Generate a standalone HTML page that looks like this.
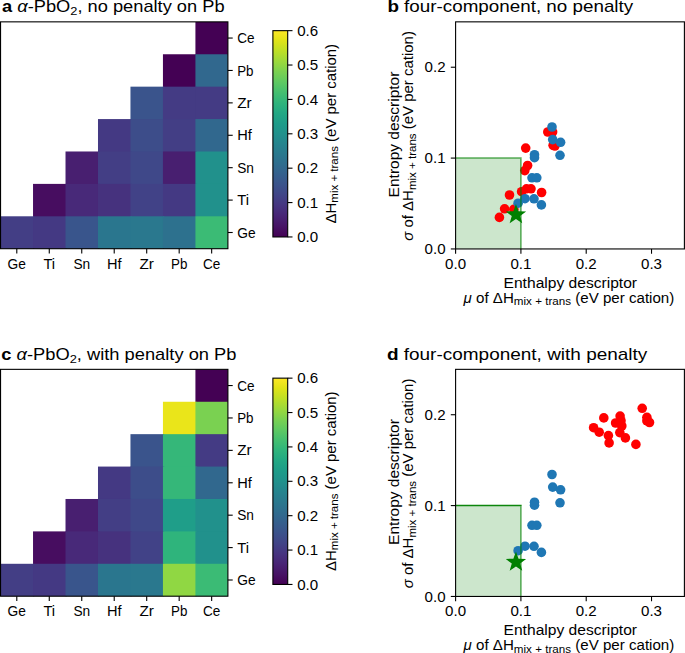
<!DOCTYPE html><html><head><meta charset="utf-8"><style>html,body{margin:0;padding:0;background:#fff;}body{width:685px;height:653px;overflow:hidden;}svg{display:block;}text{font-family:"Liberation Sans", sans-serif;fill:#000;}</style></head><body>
<svg width="685" height="653" viewBox="0 0 685 653">
<rect width="685" height="653" fill="#fff"/>
<text x="2.00" y="12.40" font-size="16.40" textLength="222.60" lengthAdjust="spacingAndGlyphs"><tspan font-weight="bold">a</tspan> <tspan font-style="italic">&#945;</tspan>-PbO<tspan font-size="11.5" dy="2.6">2</tspan><tspan dy="-2.6">,</tspan> no penalty on Pb</text>
<text x="387.40" y="12.40" font-size="16.40" textLength="245.80" lengthAdjust="spacingAndGlyphs"><tspan font-weight="bold">b</tspan> four-component, no penalty</text>
<text x="1.20" y="359.90" font-size="16.40" textLength="235.30" lengthAdjust="spacingAndGlyphs"><tspan font-weight="bold">c</tspan> <tspan font-style="italic">&#945;</tspan>-PbO<tspan font-size="11.5" dy="2.6">2</tspan><tspan dy="-2.6">,</tspan> with penalty on Pb</text>
<text x="386.90" y="359.90" font-size="16.40" textLength="260.40" lengthAdjust="spacingAndGlyphs"><tspan font-weight="bold">d</tspan> four-component, with penalty</text>
<clipPath id="cliph1"><rect x="0.55" y="21.85" width="227.35" height="226.85"/></clipPath>
<g clip-path="url(#cliph1)">
<rect x="195.42" y="21.85" width="33.68" height="33.61" fill="#440154"/>
<rect x="162.94" y="54.26" width="33.68" height="33.61" fill="#440154"/>
<rect x="195.42" y="54.26" width="33.68" height="33.61" fill="#31688e"/>
<rect x="130.46" y="86.66" width="33.68" height="33.61" fill="#3a548c"/>
<rect x="162.94" y="86.66" width="33.68" height="33.61" fill="#443b84"/>
<rect x="195.42" y="86.66" width="33.68" height="33.61" fill="#443b84"/>
<rect x="97.99" y="119.07" width="33.68" height="33.61" fill="#443983"/>
<rect x="130.46" y="119.07" width="33.68" height="33.61" fill="#3d4d8a"/>
<rect x="162.94" y="119.07" width="33.68" height="33.61" fill="#433e85"/>
<rect x="195.42" y="119.07" width="33.68" height="33.61" fill="#31688e"/>
<rect x="65.51" y="151.48" width="33.68" height="33.61" fill="#481f70"/>
<rect x="97.99" y="151.48" width="33.68" height="33.61" fill="#433e85"/>
<rect x="130.46" y="151.48" width="33.68" height="33.61" fill="#3f4889"/>
<rect x="162.94" y="151.48" width="33.68" height="33.61" fill="#481f70"/>
<rect x="195.42" y="151.48" width="33.68" height="33.61" fill="#21918c"/>
<rect x="33.03" y="183.89" width="33.68" height="33.61" fill="#470d60"/>
<rect x="65.51" y="183.89" width="33.68" height="33.61" fill="#482979"/>
<rect x="97.99" y="183.89" width="33.68" height="33.61" fill="#46327e"/>
<rect x="130.46" y="183.89" width="33.68" height="33.61" fill="#414287"/>
<rect x="162.94" y="183.89" width="33.68" height="33.61" fill="#443983"/>
<rect x="195.42" y="183.89" width="33.68" height="33.61" fill="#21918c"/>
<rect x="0.55" y="216.29" width="33.68" height="33.61" fill="#433e85"/>
<rect x="33.03" y="216.29" width="33.68" height="33.61" fill="#443983"/>
<rect x="65.51" y="216.29" width="33.68" height="33.61" fill="#39558c"/>
<rect x="97.99" y="216.29" width="33.68" height="33.61" fill="#2a768e"/>
<rect x="130.46" y="216.29" width="33.68" height="33.61" fill="#2a788e"/>
<rect x="162.94" y="216.29" width="33.68" height="33.61" fill="#2d718e"/>
<rect x="195.42" y="216.29" width="33.68" height="33.61" fill="#3bbb75"/>
</g>
<rect x="0.55" y="21.85" width="227.35" height="226.85" fill="none" stroke="#000" stroke-width="1.10"/>
<line x1="16.79" y1="248.70" x2="16.79" y2="253.50" stroke="#000" stroke-width="1.10"/>
<text x="16.79" y="268.60" font-size="14.00" text-anchor="middle" textLength="18.35" lengthAdjust="spacingAndGlyphs">Ge</text>
<line x1="227.90" y1="38.05" x2="232.70" y2="38.05" stroke="#000" stroke-width="1.10"/>
<text x="237.20" y="43.15" font-size="14.00" text-anchor="start" textLength="17.33" lengthAdjust="spacingAndGlyphs">Ce</text>
<line x1="49.27" y1="248.70" x2="49.27" y2="253.50" stroke="#000" stroke-width="1.10"/>
<text x="49.27" y="268.60" font-size="14.00" text-anchor="middle" textLength="11.73" lengthAdjust="spacingAndGlyphs">Ti</text>
<line x1="227.90" y1="70.46" x2="232.70" y2="70.46" stroke="#000" stroke-width="1.10"/>
<text x="237.20" y="75.56" font-size="14.00" text-anchor="start" textLength="16.34" lengthAdjust="spacingAndGlyphs">Pb</text>
<line x1="81.75" y1="248.70" x2="81.75" y2="253.50" stroke="#000" stroke-width="1.10"/>
<text x="81.75" y="268.60" font-size="14.00" text-anchor="middle" textLength="16.75" lengthAdjust="spacingAndGlyphs">Sn</text>
<line x1="227.90" y1="102.87" x2="232.70" y2="102.87" stroke="#000" stroke-width="1.10"/>
<text x="237.20" y="107.97" font-size="14.00" text-anchor="start" textLength="14.47" lengthAdjust="spacingAndGlyphs">Zr</text>
<line x1="114.22" y1="248.70" x2="114.22" y2="253.50" stroke="#000" stroke-width="1.10"/>
<text x="114.22" y="268.60" font-size="14.00" text-anchor="middle" textLength="14.57" lengthAdjust="spacingAndGlyphs">Hf</text>
<line x1="227.90" y1="135.28" x2="232.70" y2="135.28" stroke="#000" stroke-width="1.10"/>
<text x="237.20" y="140.38" font-size="14.00" text-anchor="start" textLength="14.57" lengthAdjust="spacingAndGlyphs">Hf</text>
<line x1="146.70" y1="248.70" x2="146.70" y2="253.50" stroke="#000" stroke-width="1.10"/>
<text x="146.70" y="268.60" font-size="14.00" text-anchor="middle" textLength="14.47" lengthAdjust="spacingAndGlyphs">Zr</text>
<line x1="227.90" y1="167.68" x2="232.70" y2="167.68" stroke="#000" stroke-width="1.10"/>
<text x="237.20" y="172.78" font-size="14.00" text-anchor="start" textLength="16.75" lengthAdjust="spacingAndGlyphs">Sn</text>
<line x1="179.18" y1="248.70" x2="179.18" y2="253.50" stroke="#000" stroke-width="1.10"/>
<text x="179.18" y="268.60" font-size="14.00" text-anchor="middle" textLength="16.34" lengthAdjust="spacingAndGlyphs">Pb</text>
<line x1="227.90" y1="200.09" x2="232.70" y2="200.09" stroke="#000" stroke-width="1.10"/>
<text x="237.20" y="205.19" font-size="14.00" text-anchor="start" textLength="11.73" lengthAdjust="spacingAndGlyphs">Ti</text>
<line x1="211.66" y1="248.70" x2="211.66" y2="253.50" stroke="#000" stroke-width="1.10"/>
<text x="211.66" y="268.60" font-size="14.00" text-anchor="middle" textLength="17.33" lengthAdjust="spacingAndGlyphs">Ce</text>
<line x1="227.90" y1="232.50" x2="232.70" y2="232.50" stroke="#000" stroke-width="1.10"/>
<text x="237.20" y="237.60" font-size="14.00" text-anchor="start" textLength="18.35" lengthAdjust="spacingAndGlyphs">Ge</text>
<defs><linearGradient id="cb1" x1="0" y1="1" x2="0" y2="0">
<stop offset="0.000" stop-color="#440154"/>
<stop offset="0.050" stop-color="#471365"/>
<stop offset="0.100" stop-color="#482475"/>
<stop offset="0.150" stop-color="#463480"/>
<stop offset="0.200" stop-color="#414487"/>
<stop offset="0.250" stop-color="#3b528b"/>
<stop offset="0.300" stop-color="#355f8d"/>
<stop offset="0.350" stop-color="#2f6c8e"/>
<stop offset="0.400" stop-color="#2a788e"/>
<stop offset="0.450" stop-color="#25848e"/>
<stop offset="0.500" stop-color="#21918c"/>
<stop offset="0.550" stop-color="#1e9c89"/>
<stop offset="0.600" stop-color="#22a884"/>
<stop offset="0.650" stop-color="#2fb47c"/>
<stop offset="0.700" stop-color="#44bf70"/>
<stop offset="0.750" stop-color="#5ec962"/>
<stop offset="0.800" stop-color="#7ad151"/>
<stop offset="0.850" stop-color="#9bd93c"/>
<stop offset="0.900" stop-color="#bddf26"/>
<stop offset="0.950" stop-color="#dfe318"/>
<stop offset="1.000" stop-color="#fde725"/>
</linearGradient></defs>
<rect x="272.90" y="30.65" width="14.80" height="206.30" fill="url(#cb1)" stroke="#000" stroke-width="1.10"/>
<line x1="287.70" y1="236.95" x2="292.50" y2="236.95" stroke="#000" stroke-width="1.10"/>
<text x="297.20" y="242.05" font-size="14.00" text-anchor="start" textLength="21.00" lengthAdjust="spacingAndGlyphs">0.0</text>
<line x1="287.70" y1="202.57" x2="292.50" y2="202.57" stroke="#000" stroke-width="1.10"/>
<text x="297.20" y="207.67" font-size="14.00" text-anchor="start" textLength="21.00" lengthAdjust="spacingAndGlyphs">0.1</text>
<line x1="287.70" y1="168.18" x2="292.50" y2="168.18" stroke="#000" stroke-width="1.10"/>
<text x="297.20" y="173.28" font-size="14.00" text-anchor="start" textLength="21.00" lengthAdjust="spacingAndGlyphs">0.2</text>
<line x1="287.70" y1="133.80" x2="292.50" y2="133.80" stroke="#000" stroke-width="1.10"/>
<text x="297.20" y="138.90" font-size="14.00" text-anchor="start" textLength="21.00" lengthAdjust="spacingAndGlyphs">0.3</text>
<line x1="287.70" y1="99.42" x2="292.50" y2="99.42" stroke="#000" stroke-width="1.10"/>
<text x="297.20" y="104.52" font-size="14.00" text-anchor="start" textLength="21.00" lengthAdjust="spacingAndGlyphs">0.4</text>
<line x1="287.70" y1="65.03" x2="292.50" y2="65.03" stroke="#000" stroke-width="1.10"/>
<text x="297.20" y="70.13" font-size="14.00" text-anchor="start" textLength="21.00" lengthAdjust="spacingAndGlyphs">0.5</text>
<line x1="287.70" y1="30.65" x2="292.50" y2="30.65" stroke="#000" stroke-width="1.10"/>
<text x="297.20" y="35.75" font-size="14.00" text-anchor="start" textLength="21.00" lengthAdjust="spacingAndGlyphs">0.6</text>
<text transform="translate(335.60,133.70) rotate(-90)" x="0" y="0" font-size="14.00" text-anchor="middle" textLength="179.60" lengthAdjust="spacingAndGlyphs">&#916;H<tspan font-size="10.8" dy="2.4">mix + trans</tspan><tspan dy="-2.4"> (eV per cation)</tspan></text>
<clipPath id="clipb"><rect x="455.60" y="21.85" width="228.80" height="227.10"/></clipPath>
<g clip-path="url(#clipb)">
<rect x="455.60" y="158.09" width="65.31" height="90.86" fill="rgba(0,128,0,0.2)"/>
<circle cx="547.80" cy="132.00" r="4.80" fill="#ff0000"/>
<circle cx="552.60" cy="132.00" r="4.80" fill="#ff0000"/>
<circle cx="553.10" cy="145.30" r="4.80" fill="#ff0000"/>
<circle cx="554.90" cy="146.00" r="4.80" fill="#ff0000"/>
<circle cx="525.70" cy="148.10" r="4.80" fill="#ff0000"/>
<circle cx="527.60" cy="165.50" r="4.80" fill="#ff0000"/>
<circle cx="524.80" cy="170.60" r="4.80" fill="#ff0000"/>
<circle cx="521.60" cy="191.70" r="4.80" fill="#ff0000"/>
<circle cx="526.50" cy="188.80" r="4.80" fill="#ff0000"/>
<circle cx="531.00" cy="188.80" r="4.80" fill="#ff0000"/>
<circle cx="541.60" cy="192.50" r="4.80" fill="#ff0000"/>
<circle cx="509.50" cy="195.00" r="4.80" fill="#ff0000"/>
<circle cx="504.60" cy="208.80" r="4.80" fill="#ff0000"/>
<circle cx="513.80" cy="209.30" r="4.80" fill="#ff0000"/>
<circle cx="499.40" cy="217.40" r="4.80" fill="#ff0000"/>
<circle cx="552.00" cy="127.00" r="4.80" fill="#1f77b4"/>
<circle cx="552.70" cy="139.60" r="4.80" fill="#1f77b4"/>
<circle cx="560.60" cy="142.30" r="4.80" fill="#1f77b4"/>
<circle cx="560.00" cy="155.30" r="4.80" fill="#1f77b4"/>
<circle cx="534.50" cy="154.70" r="4.80" fill="#1f77b4"/>
<circle cx="534.50" cy="157.70" r="4.80" fill="#1f77b4"/>
<circle cx="532.00" cy="177.80" r="4.80" fill="#1f77b4"/>
<circle cx="536.80" cy="177.80" r="4.80" fill="#1f77b4"/>
<circle cx="525.00" cy="198.70" r="4.80" fill="#1f77b4"/>
<circle cx="534.00" cy="198.80" r="4.80" fill="#1f77b4"/>
<circle cx="541.40" cy="204.90" r="4.80" fill="#1f77b4"/>
<circle cx="518.10" cy="203.20" r="4.80" fill="#1f77b4"/>
<path d="M455.60,158.09 L521.66,158.09" fill="none" stroke="rgba(0,128,0,0.65)" stroke-width="1.5"/>
<path d="M520.91,158.84 L520.91,248.95" fill="none" stroke="rgba(0,128,0,0.65)" stroke-width="1.5"/>
<path d="M515.95,204.00 L518.54,211.14 L526.13,211.39 L520.13,216.06 L522.24,223.36 L515.95,219.10 L509.66,223.36 L511.77,216.06 L505.77,211.39 L513.36,211.14 Z" fill="#008000"/>
</g>
<rect x="455.60" y="21.85" width="228.80" height="227.10" fill="none" stroke="#000" stroke-width="1.10"/>
<line x1="455.60" y1="248.95" x2="455.60" y2="253.75" stroke="#000" stroke-width="1.10"/>
<text x="455.60" y="268.60" font-size="14.00" text-anchor="middle" textLength="21.00" lengthAdjust="spacingAndGlyphs">0.0</text>
<line x1="520.91" y1="248.95" x2="520.91" y2="253.75" stroke="#000" stroke-width="1.10"/>
<text x="520.91" y="268.60" font-size="14.00" text-anchor="middle" textLength="21.00" lengthAdjust="spacingAndGlyphs">0.1</text>
<line x1="586.21" y1="248.95" x2="586.21" y2="253.75" stroke="#000" stroke-width="1.10"/>
<text x="586.21" y="268.60" font-size="14.00" text-anchor="middle" textLength="21.00" lengthAdjust="spacingAndGlyphs">0.2</text>
<line x1="651.52" y1="248.95" x2="651.52" y2="253.75" stroke="#000" stroke-width="1.10"/>
<text x="651.52" y="268.60" font-size="14.00" text-anchor="middle" textLength="21.00" lengthAdjust="spacingAndGlyphs">0.3</text>
<line x1="450.80" y1="248.95" x2="455.60" y2="248.95" stroke="#000" stroke-width="1.10"/>
<text x="445.60" y="254.05" font-size="14.00" text-anchor="end" textLength="21.00" lengthAdjust="spacingAndGlyphs">0.0</text>
<line x1="450.80" y1="158.09" x2="455.60" y2="158.09" stroke="#000" stroke-width="1.10"/>
<text x="445.60" y="163.19" font-size="14.00" text-anchor="end" textLength="21.00" lengthAdjust="spacingAndGlyphs">0.1</text>
<line x1="450.80" y1="67.23" x2="455.60" y2="67.23" stroke="#000" stroke-width="1.10"/>
<text x="445.60" y="72.33" font-size="14.00" text-anchor="end" textLength="21.00" lengthAdjust="spacingAndGlyphs">0.2</text>
<text x="570.30" y="287.50" font-size="14.00" text-anchor="middle" textLength="133.50" lengthAdjust="spacingAndGlyphs">Enthalpy descriptor</text>
<text x="568.95" y="302.80" font-size="14.00" text-anchor="middle" textLength="210.70" lengthAdjust="spacingAndGlyphs"><tspan font-style="italic">&#956;</tspan> of &#916;H<tspan font-size="10.8" dy="2.4">mix + trans</tspan><tspan dy="-2.4"> (eV per cation)</tspan></text>
<text transform="translate(398.8,134.50) rotate(-90)" font-size="14.00" text-anchor="middle" textLength="125.80" lengthAdjust="spacingAndGlyphs">Entropy descriptor</text>
<text transform="translate(413.4,135.90) rotate(-90)" font-size="14.00" text-anchor="middle" textLength="209.60" lengthAdjust="spacingAndGlyphs"><tspan font-style="italic">&#963;</tspan> of &#916;H<tspan font-size="10.8" dy="2.4">mix + trans</tspan><tspan dy="-2.4"> (eV per cation)</tspan></text>
<clipPath id="cliph2"><rect x="0.55" y="369.35" width="227.35" height="226.85"/></clipPath>
<g clip-path="url(#cliph2)">
<rect x="195.42" y="369.35" width="33.68" height="33.61" fill="#440154"/>
<rect x="162.94" y="401.76" width="33.68" height="33.61" fill="#eae51a"/>
<rect x="195.42" y="401.76" width="33.68" height="33.61" fill="#7ad151"/>
<rect x="130.46" y="434.16" width="33.68" height="33.61" fill="#3a548c"/>
<rect x="162.94" y="434.16" width="33.68" height="33.61" fill="#35b779"/>
<rect x="195.42" y="434.16" width="33.68" height="33.61" fill="#443b84"/>
<rect x="97.99" y="466.57" width="33.68" height="33.61" fill="#443983"/>
<rect x="130.46" y="466.57" width="33.68" height="33.61" fill="#3d4d8a"/>
<rect x="162.94" y="466.57" width="33.68" height="33.61" fill="#35b779"/>
<rect x="195.42" y="466.57" width="33.68" height="33.61" fill="#31688e"/>
<rect x="65.51" y="498.98" width="33.68" height="33.61" fill="#481f70"/>
<rect x="97.99" y="498.98" width="33.68" height="33.61" fill="#433e85"/>
<rect x="130.46" y="498.98" width="33.68" height="33.61" fill="#3f4889"/>
<rect x="162.94" y="498.98" width="33.68" height="33.61" fill="#1f9e89"/>
<rect x="195.42" y="498.98" width="33.68" height="33.61" fill="#21918c"/>
<rect x="33.03" y="531.39" width="33.68" height="33.61" fill="#470d60"/>
<rect x="65.51" y="531.39" width="33.68" height="33.61" fill="#482979"/>
<rect x="97.99" y="531.39" width="33.68" height="33.61" fill="#46327e"/>
<rect x="130.46" y="531.39" width="33.68" height="33.61" fill="#414287"/>
<rect x="162.94" y="531.39" width="33.68" height="33.61" fill="#2fb47c"/>
<rect x="195.42" y="531.39" width="33.68" height="33.61" fill="#21918c"/>
<rect x="0.55" y="563.79" width="33.68" height="33.61" fill="#433e85"/>
<rect x="33.03" y="563.79" width="33.68" height="33.61" fill="#443983"/>
<rect x="65.51" y="563.79" width="33.68" height="33.61" fill="#39558c"/>
<rect x="97.99" y="563.79" width="33.68" height="33.61" fill="#2a768e"/>
<rect x="130.46" y="563.79" width="33.68" height="33.61" fill="#2a788e"/>
<rect x="162.94" y="563.79" width="33.68" height="33.61" fill="#90d743"/>
<rect x="195.42" y="563.79" width="33.68" height="33.61" fill="#3bbb75"/>
</g>
<rect x="0.55" y="369.35" width="227.35" height="226.85" fill="none" stroke="#000" stroke-width="1.10"/>
<line x1="16.79" y1="596.20" x2="16.79" y2="601.00" stroke="#000" stroke-width="1.10"/>
<text x="16.79" y="616.10" font-size="14.00" text-anchor="middle" textLength="18.35" lengthAdjust="spacingAndGlyphs">Ge</text>
<line x1="227.90" y1="385.55" x2="232.70" y2="385.55" stroke="#000" stroke-width="1.10"/>
<text x="237.20" y="390.65" font-size="14.00" text-anchor="start" textLength="17.33" lengthAdjust="spacingAndGlyphs">Ce</text>
<line x1="49.27" y1="596.20" x2="49.27" y2="601.00" stroke="#000" stroke-width="1.10"/>
<text x="49.27" y="616.10" font-size="14.00" text-anchor="middle" textLength="11.73" lengthAdjust="spacingAndGlyphs">Ti</text>
<line x1="227.90" y1="417.96" x2="232.70" y2="417.96" stroke="#000" stroke-width="1.10"/>
<text x="237.20" y="423.06" font-size="14.00" text-anchor="start" textLength="16.34" lengthAdjust="spacingAndGlyphs">Pb</text>
<line x1="81.75" y1="596.20" x2="81.75" y2="601.00" stroke="#000" stroke-width="1.10"/>
<text x="81.75" y="616.10" font-size="14.00" text-anchor="middle" textLength="16.75" lengthAdjust="spacingAndGlyphs">Sn</text>
<line x1="227.90" y1="450.37" x2="232.70" y2="450.37" stroke="#000" stroke-width="1.10"/>
<text x="237.20" y="455.47" font-size="14.00" text-anchor="start" textLength="14.47" lengthAdjust="spacingAndGlyphs">Zr</text>
<line x1="114.22" y1="596.20" x2="114.22" y2="601.00" stroke="#000" stroke-width="1.10"/>
<text x="114.22" y="616.10" font-size="14.00" text-anchor="middle" textLength="14.57" lengthAdjust="spacingAndGlyphs">Hf</text>
<line x1="227.90" y1="482.78" x2="232.70" y2="482.78" stroke="#000" stroke-width="1.10"/>
<text x="237.20" y="487.88" font-size="14.00" text-anchor="start" textLength="14.57" lengthAdjust="spacingAndGlyphs">Hf</text>
<line x1="146.70" y1="596.20" x2="146.70" y2="601.00" stroke="#000" stroke-width="1.10"/>
<text x="146.70" y="616.10" font-size="14.00" text-anchor="middle" textLength="14.47" lengthAdjust="spacingAndGlyphs">Zr</text>
<line x1="227.90" y1="515.18" x2="232.70" y2="515.18" stroke="#000" stroke-width="1.10"/>
<text x="237.20" y="520.28" font-size="14.00" text-anchor="start" textLength="16.75" lengthAdjust="spacingAndGlyphs">Sn</text>
<line x1="179.18" y1="596.20" x2="179.18" y2="601.00" stroke="#000" stroke-width="1.10"/>
<text x="179.18" y="616.10" font-size="14.00" text-anchor="middle" textLength="16.34" lengthAdjust="spacingAndGlyphs">Pb</text>
<line x1="227.90" y1="547.59" x2="232.70" y2="547.59" stroke="#000" stroke-width="1.10"/>
<text x="237.20" y="552.69" font-size="14.00" text-anchor="start" textLength="11.73" lengthAdjust="spacingAndGlyphs">Ti</text>
<line x1="211.66" y1="596.20" x2="211.66" y2="601.00" stroke="#000" stroke-width="1.10"/>
<text x="211.66" y="616.10" font-size="14.00" text-anchor="middle" textLength="17.33" lengthAdjust="spacingAndGlyphs">Ce</text>
<line x1="227.90" y1="580.00" x2="232.70" y2="580.00" stroke="#000" stroke-width="1.10"/>
<text x="237.20" y="585.10" font-size="14.00" text-anchor="start" textLength="18.35" lengthAdjust="spacingAndGlyphs">Ge</text>
<defs><linearGradient id="cb2" x1="0" y1="1" x2="0" y2="0">
<stop offset="0.000" stop-color="#440154"/>
<stop offset="0.050" stop-color="#471365"/>
<stop offset="0.100" stop-color="#482475"/>
<stop offset="0.150" stop-color="#463480"/>
<stop offset="0.200" stop-color="#414487"/>
<stop offset="0.250" stop-color="#3b528b"/>
<stop offset="0.300" stop-color="#355f8d"/>
<stop offset="0.350" stop-color="#2f6c8e"/>
<stop offset="0.400" stop-color="#2a788e"/>
<stop offset="0.450" stop-color="#25848e"/>
<stop offset="0.500" stop-color="#21918c"/>
<stop offset="0.550" stop-color="#1e9c89"/>
<stop offset="0.600" stop-color="#22a884"/>
<stop offset="0.650" stop-color="#2fb47c"/>
<stop offset="0.700" stop-color="#44bf70"/>
<stop offset="0.750" stop-color="#5ec962"/>
<stop offset="0.800" stop-color="#7ad151"/>
<stop offset="0.850" stop-color="#9bd93c"/>
<stop offset="0.900" stop-color="#bddf26"/>
<stop offset="0.950" stop-color="#dfe318"/>
<stop offset="1.000" stop-color="#fde725"/>
</linearGradient></defs>
<rect x="272.90" y="378.15" width="14.80" height="206.30" fill="url(#cb2)" stroke="#000" stroke-width="1.10"/>
<line x1="287.70" y1="584.45" x2="292.50" y2="584.45" stroke="#000" stroke-width="1.10"/>
<text x="297.20" y="589.55" font-size="14.00" text-anchor="start" textLength="21.00" lengthAdjust="spacingAndGlyphs">0.0</text>
<line x1="287.70" y1="550.07" x2="292.50" y2="550.07" stroke="#000" stroke-width="1.10"/>
<text x="297.20" y="555.17" font-size="14.00" text-anchor="start" textLength="21.00" lengthAdjust="spacingAndGlyphs">0.1</text>
<line x1="287.70" y1="515.68" x2="292.50" y2="515.68" stroke="#000" stroke-width="1.10"/>
<text x="297.20" y="520.78" font-size="14.00" text-anchor="start" textLength="21.00" lengthAdjust="spacingAndGlyphs">0.2</text>
<line x1="287.70" y1="481.30" x2="292.50" y2="481.30" stroke="#000" stroke-width="1.10"/>
<text x="297.20" y="486.40" font-size="14.00" text-anchor="start" textLength="21.00" lengthAdjust="spacingAndGlyphs">0.3</text>
<line x1="287.70" y1="446.92" x2="292.50" y2="446.92" stroke="#000" stroke-width="1.10"/>
<text x="297.20" y="452.02" font-size="14.00" text-anchor="start" textLength="21.00" lengthAdjust="spacingAndGlyphs">0.4</text>
<line x1="287.70" y1="412.53" x2="292.50" y2="412.53" stroke="#000" stroke-width="1.10"/>
<text x="297.20" y="417.63" font-size="14.00" text-anchor="start" textLength="21.00" lengthAdjust="spacingAndGlyphs">0.5</text>
<line x1="287.70" y1="378.15" x2="292.50" y2="378.15" stroke="#000" stroke-width="1.10"/>
<text x="297.20" y="383.25" font-size="14.00" text-anchor="start" textLength="21.00" lengthAdjust="spacingAndGlyphs">0.6</text>
<text transform="translate(335.60,481.20) rotate(-90)" x="0" y="0" font-size="14.00" text-anchor="middle" textLength="179.60" lengthAdjust="spacingAndGlyphs">&#916;H<tspan font-size="10.8" dy="2.4">mix + trans</tspan><tspan dy="-2.4"> (eV per cation)</tspan></text>
<clipPath id="clipd"><rect x="455.60" y="369.35" width="228.80" height="227.10"/></clipPath>
<g clip-path="url(#clipd)">
<rect x="455.60" y="505.59" width="65.31" height="90.86" fill="rgba(0,128,0,0.2)"/>
<circle cx="642.20" cy="408.30" r="4.80" fill="#ff0000"/>
<circle cx="646.90" cy="417.30" r="4.80" fill="#ff0000"/>
<circle cx="646.90" cy="420.90" r="4.80" fill="#ff0000"/>
<circle cx="649.50" cy="422.50" r="4.80" fill="#ff0000"/>
<circle cx="603.80" cy="417.90" r="4.80" fill="#ff0000"/>
<circle cx="593.60" cy="427.70" r="4.80" fill="#ff0000"/>
<circle cx="599.20" cy="432.20" r="4.80" fill="#ff0000"/>
<circle cx="608.40" cy="435.60" r="4.80" fill="#ff0000"/>
<circle cx="609.10" cy="442.90" r="4.80" fill="#ff0000"/>
<circle cx="620.10" cy="416.10" r="4.80" fill="#ff0000"/>
<circle cx="615.60" cy="423.00" r="4.80" fill="#ff0000"/>
<circle cx="621.00" cy="420.70" r="4.80" fill="#ff0000"/>
<circle cx="621.80" cy="426.00" r="4.80" fill="#ff0000"/>
<circle cx="619.80" cy="432.60" r="4.80" fill="#ff0000"/>
<circle cx="625.40" cy="437.90" r="4.80" fill="#ff0000"/>
<circle cx="635.90" cy="444.40" r="4.80" fill="#ff0000"/>
<circle cx="552.00" cy="474.50" r="4.80" fill="#1f77b4"/>
<circle cx="552.70" cy="487.10" r="4.80" fill="#1f77b4"/>
<circle cx="560.60" cy="489.80" r="4.80" fill="#1f77b4"/>
<circle cx="560.00" cy="502.80" r="4.80" fill="#1f77b4"/>
<circle cx="534.50" cy="502.20" r="4.80" fill="#1f77b4"/>
<circle cx="534.50" cy="505.20" r="4.80" fill="#1f77b4"/>
<circle cx="532.00" cy="525.30" r="4.80" fill="#1f77b4"/>
<circle cx="536.80" cy="525.30" r="4.80" fill="#1f77b4"/>
<circle cx="525.00" cy="546.20" r="4.80" fill="#1f77b4"/>
<circle cx="534.00" cy="546.30" r="4.80" fill="#1f77b4"/>
<circle cx="541.40" cy="552.40" r="4.80" fill="#1f77b4"/>
<circle cx="518.10" cy="550.70" r="4.80" fill="#1f77b4"/>
<path d="M455.60,505.59 L521.66,505.59" fill="none" stroke="rgba(0,128,0,0.95)" stroke-width="1.5"/>
<path d="M520.91,506.34 L520.91,596.45" fill="none" stroke="rgba(0,128,0,0.65)" stroke-width="1.5"/>
<path d="M515.95,551.50 L518.54,558.64 L526.13,558.89 L520.13,563.56 L522.24,570.86 L515.95,566.60 L509.66,570.86 L511.77,563.56 L505.77,558.89 L513.36,558.64 Z" fill="#008000"/>
</g>
<rect x="455.60" y="369.35" width="228.80" height="227.10" fill="none" stroke="#000" stroke-width="1.10"/>
<line x1="455.60" y1="596.45" x2="455.60" y2="601.25" stroke="#000" stroke-width="1.10"/>
<text x="455.60" y="616.10" font-size="14.00" text-anchor="middle" textLength="21.00" lengthAdjust="spacingAndGlyphs">0.0</text>
<line x1="520.91" y1="596.45" x2="520.91" y2="601.25" stroke="#000" stroke-width="1.10"/>
<text x="520.91" y="616.10" font-size="14.00" text-anchor="middle" textLength="21.00" lengthAdjust="spacingAndGlyphs">0.1</text>
<line x1="586.21" y1="596.45" x2="586.21" y2="601.25" stroke="#000" stroke-width="1.10"/>
<text x="586.21" y="616.10" font-size="14.00" text-anchor="middle" textLength="21.00" lengthAdjust="spacingAndGlyphs">0.2</text>
<line x1="651.52" y1="596.45" x2="651.52" y2="601.25" stroke="#000" stroke-width="1.10"/>
<text x="651.52" y="616.10" font-size="14.00" text-anchor="middle" textLength="21.00" lengthAdjust="spacingAndGlyphs">0.3</text>
<line x1="450.80" y1="596.45" x2="455.60" y2="596.45" stroke="#000" stroke-width="1.10"/>
<text x="445.60" y="601.55" font-size="14.00" text-anchor="end" textLength="21.00" lengthAdjust="spacingAndGlyphs">0.0</text>
<line x1="450.80" y1="505.59" x2="455.60" y2="505.59" stroke="#000" stroke-width="1.10"/>
<text x="445.60" y="510.69" font-size="14.00" text-anchor="end" textLength="21.00" lengthAdjust="spacingAndGlyphs">0.1</text>
<line x1="450.80" y1="414.73" x2="455.60" y2="414.73" stroke="#000" stroke-width="1.10"/>
<text x="445.60" y="419.83" font-size="14.00" text-anchor="end" textLength="21.00" lengthAdjust="spacingAndGlyphs">0.2</text>
<text x="570.30" y="635.00" font-size="14.00" text-anchor="middle" textLength="133.50" lengthAdjust="spacingAndGlyphs">Enthalpy descriptor</text>
<text x="568.95" y="650.30" font-size="14.00" text-anchor="middle" textLength="210.70" lengthAdjust="spacingAndGlyphs"><tspan font-style="italic">&#956;</tspan> of &#916;H<tspan font-size="10.8" dy="2.4">mix + trans</tspan><tspan dy="-2.4"> (eV per cation)</tspan></text>
<text transform="translate(398.8,482.00) rotate(-90)" font-size="14.00" text-anchor="middle" textLength="125.80" lengthAdjust="spacingAndGlyphs">Entropy descriptor</text>
<text transform="translate(413.4,483.40) rotate(-90)" font-size="14.00" text-anchor="middle" textLength="209.60" lengthAdjust="spacingAndGlyphs"><tspan font-style="italic">&#963;</tspan> of &#916;H<tspan font-size="10.8" dy="2.4">mix + trans</tspan><tspan dy="-2.4"> (eV per cation)</tspan></text>
</svg></body></html>
